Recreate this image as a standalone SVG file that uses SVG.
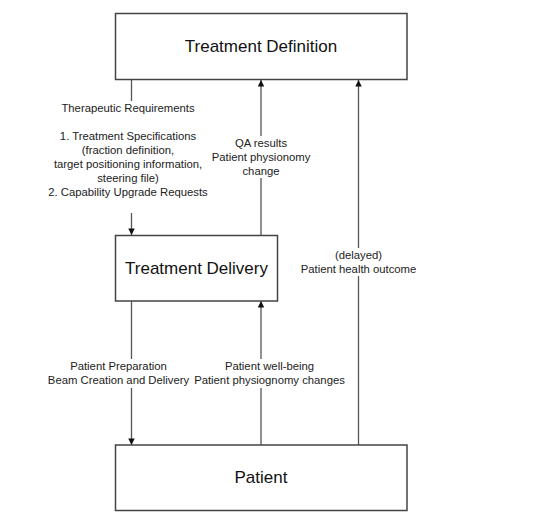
<svg xmlns="http://www.w3.org/2000/svg" width="543" height="528" viewBox="0 0 543 528">
<style>
.box{fill:#fff;stroke:#444;stroke-width:1.5}
.big{font-family:"Liberation Sans",Arial,sans-serif;font-size:17px;fill:#111;text-anchor:middle}
.lbl{font-family:"Liberation Sans",Arial,sans-serif;font-size:11.3px;fill:#222;text-anchor:middle}
.ln{stroke:#555;stroke-width:1.3;fill:none}
</style>
<defs>
<marker id="arr" viewBox="0 0 10 10" refX="10" refY="5" markerWidth="9" markerHeight="6.5" markerUnits="userSpaceOnUse" orient="auto">
<path d="M0,0 L10,5 L0,10 Z" fill="#111"/>
</marker>
</defs>
<rect width="543" height="528" fill="#fff"/>
<g id="connectors">
<line class="ln" x1="131.5" y1="80" x2="131.5" y2="101"/>
<line class="ln" x1="131.5" y1="213" x2="131.5" y2="235" marker-end="url(#arr)"/>
<line class="ln" x1="261" y1="235" x2="261" y2="178"/>
<line class="ln" x1="261" y1="136" x2="261" y2="80" marker-end="url(#arr)"/>
<line class="ln" x1="358.5" y1="445" x2="358.5" y2="276"/>
<line class="ln" x1="358.5" y1="248" x2="358.5" y2="80" marker-end="url(#arr)"/>
<line class="ln" x1="131.5" y1="301" x2="131.5" y2="359"/>
<line class="ln" x1="131.5" y1="388" x2="131.5" y2="445" marker-end="url(#arr)"/>
<line class="ln" x1="261" y1="445" x2="261" y2="388"/>
<line class="ln" x1="261" y1="359" x2="261" y2="301" marker-end="url(#arr)"/>
<text class="lbl" x="128" y="112">Therapeutic Requirements</text>
<text class="lbl" x="128" y="140">1. Treatment Specifications</text>
<text class="lbl" x="128" y="154">(fraction definition,</text>
<text class="lbl" x="128" y="168">target positioning information,</text>
<text class="lbl" x="128" y="182">steering file)</text>
<text class="lbl" x="128" y="196">2. Capability Upgrade Requests</text>
<text class="lbl" x="261" y="147">QA results</text>
<text class="lbl" x="261" y="161">Patient physionomy</text>
<text class="lbl" x="261" y="175">change</text>
<text class="lbl" x="358.5" y="259">(delayed)</text>
<text class="lbl" x="358.5" y="273">Patient health outcome</text>
<text class="lbl" x="118.5" y="370">Patient Preparation</text>
<text class="lbl" x="118.5" y="384">Beam Creation and Delivery</text>
<text class="lbl" x="269.5" y="370">Patient well-being</text>
<text class="lbl" x="269.5" y="384">Patient physiognomy changes</text>
</g>
<g id="treatment-definition">
<rect class="box" x="115.5" y="13.5" width="291.5" height="66"/>
<text class="big" x="261" y="52">Treatment Definition</text>
</g>
<g id="treatment-delivery">
<rect class="box" x="115.5" y="235.5" width="162" height="65.5"/>
<text class="big" x="196.5" y="274">Treatment Delivery</text>
</g>
<g id="patient">
<rect class="box" x="115.5" y="445" width="291.5" height="65.5"/>
<text class="big" x="261" y="483">Patient</text>
</g>
</svg>
